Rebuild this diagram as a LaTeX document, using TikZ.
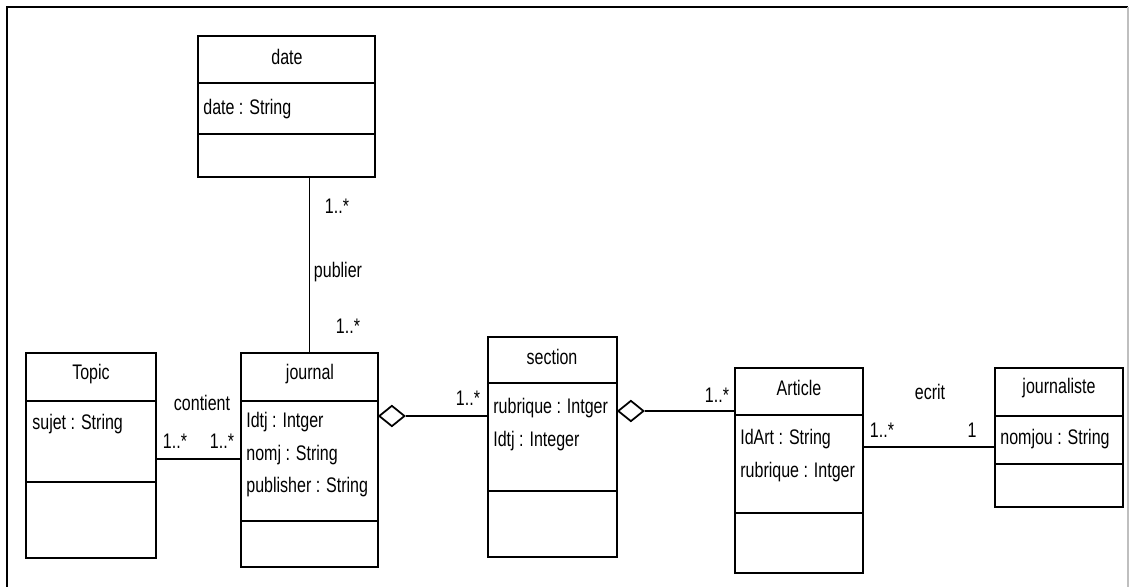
\documentclass[tikz,border=0pt]{standalone}
\usepackage{fontspec}
\setmainfont{Liberation Sans}[FakeStretch=0.76]
\usetikzlibrary{fit,shapes.geometric}

\tikzset{
    classbox/.style={draw, line width=1.1pt, inner sep=0pt},
    compart/.style={line width=1.1pt},
    classname/.style={font=\fontsize{12}{14}\selectfont},
    attrs/.style={anchor=north west, inner sep=0pt, align=left, font=\fontsize{12}{18.5}\selectfont},
    assoc/.style={line width=1pt},
    aggr/.style={diamond, draw, line width=1pt, fill=white, inner sep=0pt, aspect=1.25,
        minimum width=0.52cm, minimum height=0.42cm},
    mult/.style={font=\fontsize{12}{14}\selectfont, inner sep=0pt},
}

\begin{document}
\begin{tikzpicture}[x=0.02cm, y=-0.02cm]
    \useasboundingbox (0,0) rectangle (1133,587);
    %\draw[lightgray] (0,0) grid[step=50] (1133,587);
    \draw[line width=1.4pt] (7,587) -- (7,7) -- (1128,7);
    \draw[gray!50, line width=0.6pt] (1128,7) -- (1128,587);

    % classes
    \node[classbox, fit={(198,36) (375,177)}] (date) {};
    \draw[compart] (date.west |- 0,83) -- (date.east |- 0,83);
    \draw[compart] (date.west |- 0,134) -- (date.east |- 0,134);
    \node[classname] (datename) at (287,57) {date};
    \node[attrs] (dateattr) at (203,99) {date : String};

    \node[classbox, fit={(26,353) (156,558)}] (topic) {};
    \draw[compart] (topic.west |- 0,401) -- (topic.east |- 0,401);
    \draw[compart] (topic.west |- 0,482) -- (topic.east |- 0,482);
    \node[classname] (topicname) at (91,374) {Topic};
    \node[attrs] (topicattr) at (32,414) {sujet : String};

    \node[classbox, fit={(241,353) (378,567)}] (journal) {};
    \draw[compart] (journal.west |- 0,401) -- (journal.east |- 0,401);
    \draw[compart] (journal.west |- 0,521) -- (journal.east |- 0,521);
    \node[classname] (journalname) at (310,374) {journal};
    \node[attrs] (journalattr) at (246,412) {Idtj : Intger\\nomj : String\\publisher : String};

    \node[classbox, fit={(488,337) (617,557)}] (section) {};
    \draw[compart] (section.west |- 0,383) -- (section.east |- 0,383);
    \draw[compart] (section.west |- 0,491) -- (section.east |- 0,491);
    \node[classname] (sectionname) at (552,357) {section};
    \node[attrs] (sectionattr) at (493,398) {rubrique : Intger\\Idtj : Integer};

    \node[classbox, fit={(735,368) (863,573)}] (article) {};
    \draw[compart] (article.west |- 0,415) -- (article.east |- 0,415);
    \draw[compart] (article.west |- 0,513) -- (article.east |- 0,513);
    \node[classname] (articlename) at (799,388) {Article};
    \node[attrs] (articleattr) at (740,429) {IdArt : String\\rubrique : Intger};

    \node[classbox, fit={(995,368) (1123,507)}] (journaliste) {};
    \draw[compart] (journaliste.west |- 0,416) -- (journaliste.east |- 0,416);
    \draw[compart] (journaliste.west |- 0,464) -- (journaliste.east |- 0,464);
    \node[classname] (journalistename) at (1059,388) {journaliste};
    \node[attrs] (journalisteattr) at (1000,429) {nomjou : String};

    % associations
    \draw[assoc] (journal.north) -- (journal.north |- date.south);
    \coordinate (contient) at (200,459);
    \draw[assoc] (topic.east |- contient) -- (journal.west |- contient);
    \coordinate (ecrit) at (930,447);
    \draw[assoc] (article.east |- ecrit) -- (journaliste.west |- ecrit);

    % aggregations
    \node[aggr, anchor=west] (agg1) at (378,416) {};
    \draw[assoc] (agg1.east) -- (section.west |- agg1.east);
    \node[aggr, anchor=west] (agg2) at (617,411) {};
    \draw[assoc] (agg2.east) -- (article.west |- agg2.east);

    % labels
    \node[mult] (m1) at (337,206) {1..*};
    \node[mult] (publier) at (338,272) {publier};
    \node[mult] (m2) at (348,326) {1..*};
    \node[mult] (contientlbl) at (202,403) {contient};
    \node[mult] (m3) at (175,441) {1..*};
    \node[mult] (m4) at (222,441) {1..*};
    \node[mult] (m5) at (468,398) {1..*};
    \node[mult] (m6) at (717,395) {1..*};
    \node[mult] (ecritlbl) at (930,392) {ecrit};
    \node[mult] (m7) at (882,430) {1..*};
    \node[mult] (m8) at (972,430) {1};
\end{tikzpicture}
\end{document}
